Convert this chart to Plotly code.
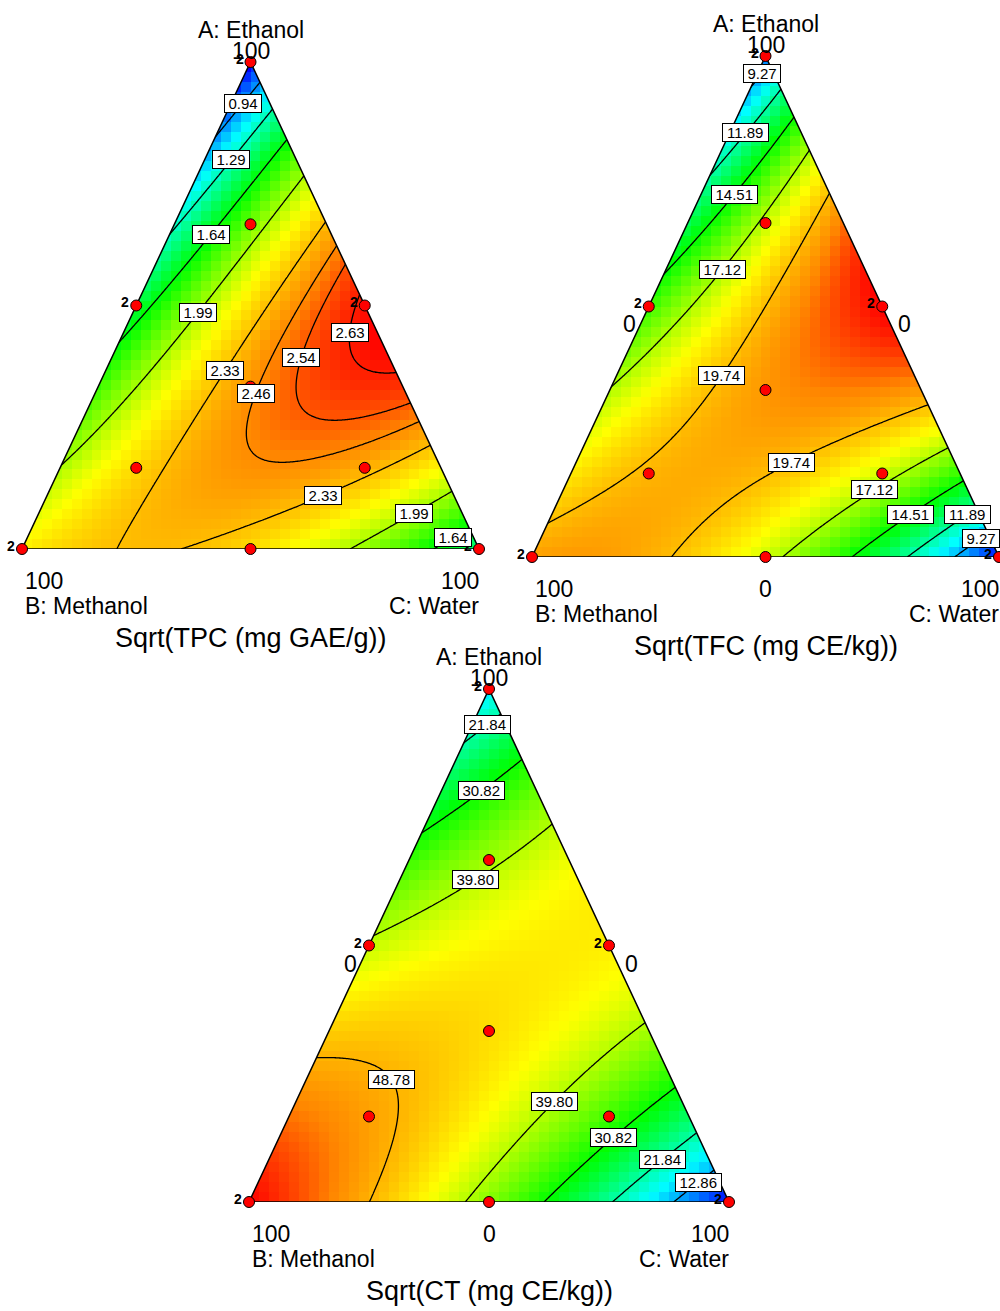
import numpy as np
import plotly.graph_objects as go

FONT = "Liberation Sans, Arial, sans-serif"

# Reference blends of the special cubic mixture model (A, B, C, AB, AC, BC, ABC)
BLEND_A = [1.0, 0.0, 0.0, 0.5, 0.5, 0.0, 1 / 3]
BLEND_B = [0.0, 1.0, 0.0, 0.5, 0.0, 0.5, 1 / 3]
BLEND_C = [0.0, 0.0, 1.0, 0.0, 0.5, 0.5, 1 / 3]

# Predicted responses at those blends
TPC_PRED = [0.65, 2.20, 1.40, 1.525, 2.65, 2.25, 2.44]
TFC_PRED = [8.3, 20.3, 6.5, 15.3, 22.4, 17.65, 20.5]
CT_PRED = [16.0, 57.0, 4.0, 40.6, 44.75, 37.25, 45.94]

# Contour levels
TPC_LEVELS = [0.94, 1.29, 1.64, 1.99, 2.33, 2.46, 2.54, 2.63]
TFC_LEVELS = [9.27, 11.89, 14.51, 17.12, 19.74]
CT_LEVELS = [12.86, 21.84, 30.82, 39.80, 48.78]

# Design runs (distinct blends) and replicate counts
RUN_A = [1, 0, 0, 0.5, 0.5, 0, 1 / 3, 2 / 3, 1 / 6, 1 / 6]
RUN_B = [0, 1, 0, 0.5, 0, 0.5, 1 / 3, 1 / 6, 2 / 3, 1 / 6]
RUN_C = [0, 0, 1, 0, 0.5, 0.5, 1 / 3, 1 / 6, 1 / 6, 2 / 3]
RUN_REPS = [2, 2, 2, 2, 2, 1, 1, 1, 1, 1]

COLORSCALE = [
    [0.0, "rgb(0,0,255)"],
    [0.25, "rgb(0,255,255)"],
    [0.5, "rgb(0,255,0)"],
    [0.75, "rgb(255,255,0)"],
    [0.9, "rgb(255,135,0)"],
    [1.0, "rgb(255,0,0)"],
]


def model_terms(a, b, c):
    return [a, b, c, a * b, a * c, b * c, a * b * c]


def fit_coefficients(pred):
    X = np.array([model_terms(a, b, c) for a, b, c in zip(BLEND_A, BLEND_B, BLEND_C)])
    return np.linalg.solve(X, np.array(pred, dtype=float))


def surface(beta, x, y):
    # cartesian position in the triangle -> mixture fractions
    a = y
    c = x - y / 2.0
    b = 1.0 - a - c
    terms = model_terms(a, b, c)
    return sum(k * t for k, t in zip(beta, terms))


def to_xy(a, b, c):
    return c + a / 2.0, a


def place_on_level(beta, level, x0, y0):
    # slide a label hint onto the nearest point of its contour line
    x, y = x0, y0
    h = 1e-4
    for _ in range(30):
        f = surface(beta, x, y) - level
        gx = (surface(beta, x + h, y) - surface(beta, x - h, y)) / (2 * h)
        gy = (surface(beta, x, y + h) - surface(beta, x, y - h)) / (2 * h)
        g2 = gx * gx + gy * gy
        if g2 == 0:
            break
        x -= f * gx / g2
        y -= f * gy / g2
    if np.hypot(x - x0, y - y0) > 0.04:
        return x0, y0
    return x, y


def label_width(text, size):
    w = 0.0
    for ch in text:
        w += 0.278 if ch == "." else 0.556
    return w * size


panels = [
    dict(pred=TPC_PRED, levels=TPC_LEVELS, title="Sqrt(TPC (mg GAE/g))",
         dx=[0.022, 0.479], dy=[1 - 549 / 1311, 1 - 62 / 1311], cells=(46, 49), zeros=False,
         tags=[(0.94, 0.477, 0.92), (1.29, 0.451, 0.805), (1.64, 0.405, 0.653),
               (1.99, 0.376, 0.495), (2.33, 0.444, 0.368), (2.46, 0.516, 0.318),
               (2.54, 0.619, 0.392), (2.63, 0.724, 0.4435), (2.33, 0.652, 0.131),
               (1.99, 0.847, 0.0945), (1.64, 0.93, 0.045)]),
    dict(pred=TFC_PRED, levels=TFC_LEVELS, title="Sqrt(TFC (mg CE/kg))",
         dx=[0.532, 0.999], dy=[1 - 557 / 1311, 1 - 56 / 1311], cells=(47, 50), zeros=True,
         tags=[(9.27, 0.487, 0.97), (11.89, 0.452, 0.852), (14.51, 0.426, 0.729),
               (17.12, 0.400, 0.581), (19.74, 0.394, 0.371), (19.74, 0.5525, 0.1956),
               (17.12, 0.728, 0.1437), (14.51, 0.805, 0.0948), (11.89, 0.927, 0.0948),
               (9.27, 0.955, 0.0459)]),
    dict(pred=CT_PRED, levels=CT_LEVELS, title="Sqrt(CT (mg CE/kg))",
         dx=[0.249, 0.729], dy=[1 - 1202 / 1311, 1 - 689 / 1311], cells=(48, 51), zeros=True,
         tags=[(21.84, 0.4875, 0.945), (30.82, 0.476, 0.815), (39.80, 0.4625, 0.644),
               (48.78, 0.308, 0.2456), (39.80, 0.626, 0.2066), (30.82, 0.75, 0.138),
               (21.84, 0.852, 0.0945), (12.86, 0.925, 0.0526)]),
]

fig = go.Figure()
annotations = []
layout_axes = {}

for i, p in enumerate(panels, start=1):
    sfx = "" if i == 1 else str(i)
    xa, ya = "x" + sfx, "y" + sfx
    beta = fit_coefficients(p["pred"])

    # colour range over the simplex
    g = np.linspace(0, 1, 401)
    GX, GY = np.meshgrid(g, g)
    inside = (GX >= GY / 2 - 1e-9) & (GX <= 1 - GY / 2 + 1e-9)
    vals = surface(beta, GX, GY)[inside]
    zmin, zmax = float(vals.min()), float(vals.max())

    nx, ny = p["cells"]
    xc = (np.arange(nx) + 0.5) / nx
    yc = (np.arange(ny) + 0.5) / ny
    CX, CY = np.meshgrid(xc, yc)
    fig.add_trace(go.Heatmap(x=xc, y=yc, z=surface(beta, CX, CY), colorscale=COLORSCALE,
                             zmin=zmin, zmax=zmax, zsmooth=False, showscale=False,
                             hoverinfo="skip", xaxis=xa, yaxis=ya))

    fx = np.linspace(0, 1, 361)
    FX, FY = np.meshgrid(fx, fx)
    FZ = surface(beta, FX, FY)
    for lv in p["levels"]:
        fig.add_trace(go.Contour(x=fx, y=fx, z=FZ, autocontour=False,
                                 contours=dict(start=lv, end=lv, size=1, coloring="none"),
                                 line=dict(color="black", width=1.3), showscale=False,
                                 hoverinfo="skip", xaxis=xa, yaxis=ya))

    # white masks outside the triangle
    for mx, my in (([0, 0.5, 0, 0], [0, 1, 1, 0]), ([1, 0.5, 1, 1], [0, 1, 1, 0])):
        fig.add_trace(go.Scatter(x=mx, y=my, mode="lines", fill="toself", fillcolor="white",
                                 line=dict(width=0, color="white"), hoverinfo="skip",
                                 xaxis=xa, yaxis=ya))

    fig.add_trace(go.Scatter(x=[0, 1, 0.5, 0], y=[0, 0, 1, 0], mode="lines",
                             line=dict(color="black", width=1.5), cliponaxis=False,
                             hoverinfo="skip", xaxis=xa, yaxis=ya))

    px, py = to_xy(np.array(RUN_A), np.array(RUN_B), np.array(RUN_C))
    fig.add_trace(go.Scatter(x=px, y=py, mode="markers", cliponaxis=False,
                             marker=dict(size=11, color="rgb(255,0,0)",
                                         line=dict(color="black", width=1)),
                             hoverinfo="skip", xaxis=xa, yaxis=ya))
    for x0, y0, r in zip(px, py, RUN_REPS):
        if r > 1:
            annotations.append(dict(x=x0, y=y0, xref=xa, yref=ya, text="<b>%d</b>" % r,
                                    showarrow=False, xanchor="right", yanchor="middle",
                                    xshift=-5, yshift=3,
                                    font=dict(family=FONT, size=14, color="black")))

    # contour labels
    for lv, hx, hy in p["tags"]:
        lx, ly = place_on_level(beta, lv, hx, hy)
        txt = "%.2f" % lv
        annotations.append(dict(x=lx, y=ly, xref=xa, yref=ya, text=txt, showarrow=False,
                                xanchor="center", yanchor="middle",
                                width=label_width(txt, 15) + 5, height=15,
                                bgcolor="white", bordercolor="black", borderwidth=1,
                                borderpad=1, font=dict(family=FONT, size=15, color="black")))

    def txt(x, y, s, size=23, xs=0, ys=0, xan="center"):
        annotations.append(dict(x=x, y=y, xref=xa, yref=ya, text=s, showarrow=False,
                                xanchor=xan, yanchor="middle", xshift=xs, yshift=ys,
                                font=dict(family=FONT, size=size, color="black")))

    txt(0.5, 1, "A: Ethanol", ys=32)
    txt(0.5, 1, "100", ys=11)
    txt(0, 0, "100", xs=1, ys=-32, xan="left")
    txt(0, 0, "B: Methanol", xs=1, ys=-57, xan="left")
    txt(1, 0, "100", xs=2, ys=-32, xan="right")
    txt(1, 0, "C: Water", xs=2, ys=-57, xan="right")
    txt(0.5, 0, p["title"], size=27, ys=-89)
    if p["zeros"]:
        txt(0.25, 0.5, "0", xs=-19, ys=-18)
        txt(0.75, 0.5, "0", xs=22, ys=-18)
        txt(0.5, 0, "0", ys=-32)

    layout_axes["xaxis" + sfx] = dict(domain=p["dx"], range=[0, 1], visible=False,
                                      fixedrange=True, anchor=ya)
    layout_axes["yaxis" + sfx] = dict(domain=p["dy"], range=[0, 1], visible=False,
                                      fixedrange=True, anchor=xa)

fig.update_layout(width=1000, height=1311, margin=dict(l=0, r=0, t=0, b=0),
                  paper_bgcolor="white", plot_bgcolor="white", showlegend=False,
                  annotations=annotations, **layout_axes)

fig.write_html("out.html")
